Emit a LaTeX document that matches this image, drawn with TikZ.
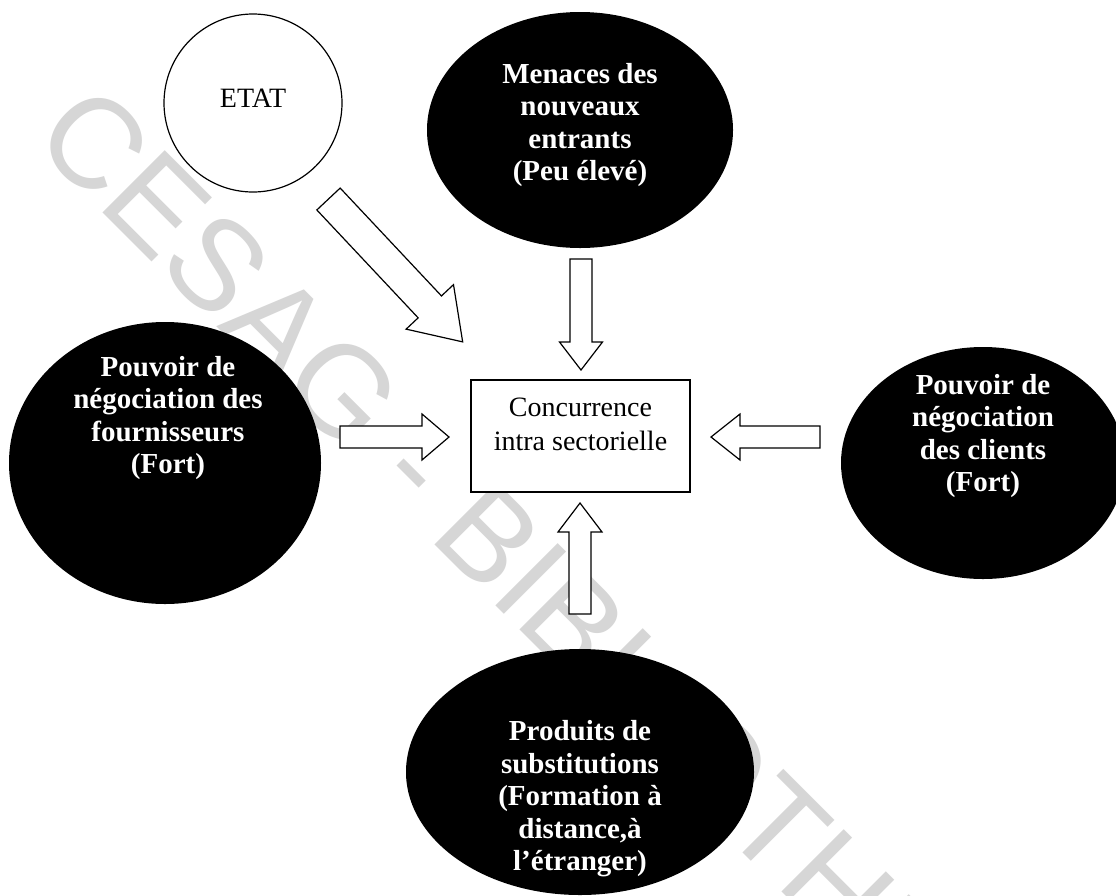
\documentclass[tikz,border=0pt]{standalone}
\usepackage{fontspec}
\setmainfont{Liberation Serif}
\newfontfamily\wmfont{Liberation Sans}
\usetikzlibrary{shapes.geometric}
\tikzset{
  blackell/.style={ellipse, fill=black, draw=none, inner sep=0pt},
  lbl/.style={text=white, align=center, font=\fontsize{29}{32.5}\selectfont\bfseries, inner sep=0pt},
  plain/.style={align=center, font=\fontsize{28}{34}\selectfont, inner sep=0pt},
  outline/.style={draw=black, line width=1.2pt},
  barrow/.style={draw=black, line width=1.2pt, fill=white, line join=miter},
  wmark/.style={text=black!16, font=\fontsize{128}{128}\wmfont, inner sep=0pt},
  pics/blockarrow/.style n args={4}{code={
    \draw[barrow] (0,-#2) -- (#1-#4,-#2) -- (#1-#4,-#3) -- (#1,0) -- (#1-#4,#3) -- (#1-#4,#2) -- (0,#2) -- cycle;
  }}
}
\begin{document}
\begin{tikzpicture}[x=1pt,y=-1pt]
\useasboundingbox (0,0) rectangle (1116,895);
\fill[white] (0,0) rectangle (1116,895);
% watermark
\node[wmark, anchor=base west, rotate=-45] (wm) at (30,140) {CESAG - BIBLIOTHEQUE};
% nodes
\node[circle, outline, fill=white, minimum size=178, inner sep=0pt] (etat) at (253,103) {};
\node[plain] (etatt) at (253,98) {ETAT};
\node[blackell, minimum width=306, minimum height=236] (men) at (580,130) {};
\node[lbl] (ment) at (580,125) {Menaces des\\nouveaux\\entrants\\(Peu élevé)};
\node[blackell, minimum width=312, minimum height=282] (four) at (165,463) {};
\node[lbl] (fourt) at (168,418) {Pouvoir de\\négociation des\\fournisseurs\\(Fort)};
\node[blackell, minimum width=284, minimum height=232] (cli) at (983,463) {};
\node[lbl] (clit) at (983,436) {Pouvoir de\\négociation\\des clients\\(Fort)};
\node[blackell, minimum width=348, minimum height=246] (prod) at (580,772) {};
\node[lbl] (prodt) at (580,799) {Produits de\\substitutions\\(Formation à\\distance,à\\l’étranger)};
\node[outline, fill=white, minimum width=219, minimum height=112, inner sep=0pt] (box) at (580.5,436) {};
\node[plain] (boxt) at (580.5,424) {Concurrence\\intra sectorielle};
% block arrows
\pic[rotate=-46.8] (aetat) at (328.5,199) {blockarrow={196}{16}{32.5}{48}};
\pic[rotate=-90] (amen) at (581,259) {blockarrow={111}{11}{21.5}{28}};
\pic[rotate=90] (aprod) at (580,614) {blockarrow={111}{11}{22}{29}};
\pic (afour) at (340,437) {blockarrow={109}{11}{23}{27}};
\pic[rotate=180] (acli) at (820,437) {blockarrow={109}{11}{23}{29}};
\end{tikzpicture}
\end{document}
